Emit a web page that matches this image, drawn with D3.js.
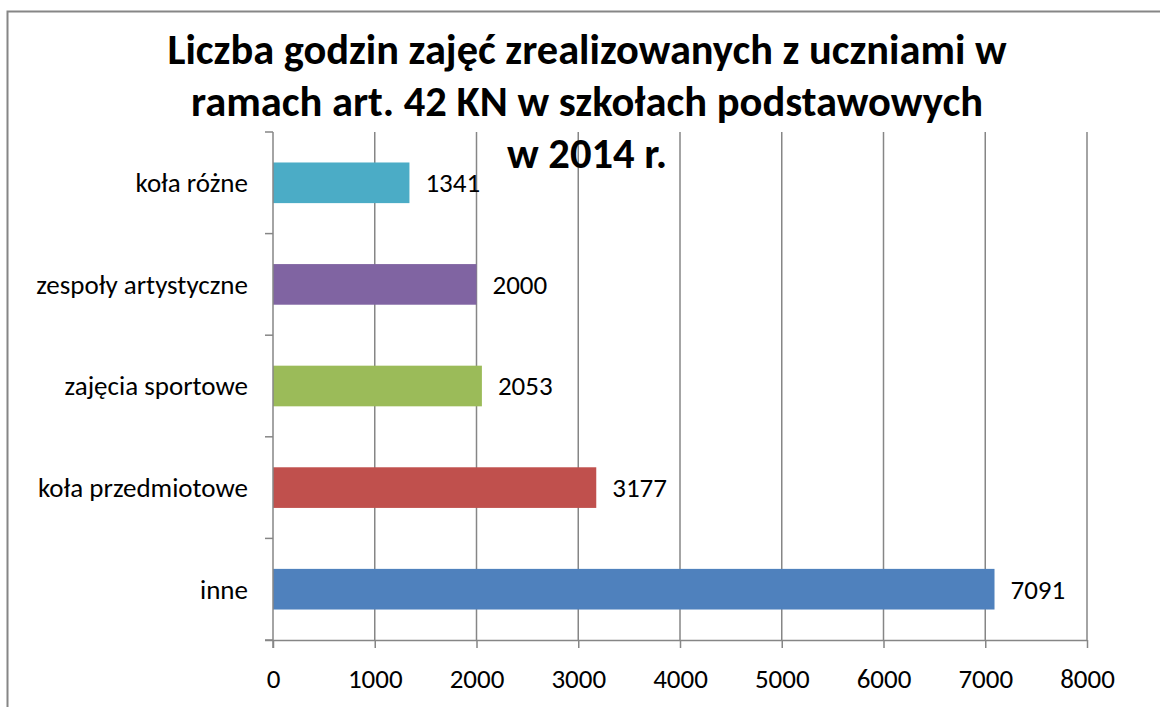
<!DOCTYPE html>
<html>
<head>
<meta charset="utf-8">
<script src="https://cdn.jsdelivr.net/npm/d3@7"></script>
<style>
  html, body { margin: 0; padding: 0; background: #fff; }
  svg { display: block; }
  text { font-family: Carlito, Lato, "Open Sans", sans-serif; fill: #000; }
</style>
</head>
<body>
<svg id="chart" width="1160" height="707"></svg>
<script>
const titleLines = ["Liczba godzin zajęć zrealizowanych z uczniami w",
                    "ramach art. 42 KN w szkołach podstawowych",
                    "w 2014 r."];
const categories = ["inne", "koła przedmiotowe", "zajęcia sportowe", "zespoły artystyczne", "koła różne"];
const values = [7091, 3177, 2053, 2000, 1341];
const colors = ["#4F81BD", "#C0504D", "#9BBB59", "#8064A2", "#4BACC6"];
const xTicks = [0, 1000, 2000, 3000, 4000, 5000, 6000, 7000, 8000];

const svg = d3.select("#chart");
const m = {left: 273, right: 1087, top: 132, bottom: 640};
const axisColor = "#868686";
const fs = "27px";

// outer border (chart area frame, cropped on right/bottom)
svg.append("rect").attr("x", 7.5).attr("y", 11.5).attr("width", 1200).attr("height", 800)
  .attr("fill", "#fff").attr("stroke", axisColor).attr("stroke-width", 2);

const x = d3.scaleLinear().domain([0, 8000]).range([m.left, m.right]);
const y = d3.scaleBand().domain(categories.slice().reverse()).range([m.top, m.bottom]).paddingInner(0.6).paddingOuter(0.3);

// gridlines
svg.append("g").selectAll("line").data(xTicks.slice(1)).join("line")
  .attr("x1", d => x(d)).attr("x2", d => x(d))
  .attr("y1", m.top).attr("y2", m.bottom)
  .attr("stroke", axisColor).attr("stroke-width", 1.5);

// bars
svg.append("g").selectAll("rect").data(categories).join("rect")
  .attr("x", x(0))
  .attr("y", d => y(d))
  .attr("width", (d, i) => x(values[i]) - x(0))
  .attr("height", y.bandwidth())
  .attr("fill", (d, i) => colors[i]);

// x axis
const xAxis = d3.axisBottom(x).tickValues(xTicks).tickSize(8).tickPadding(21).tickFormat(d3.format("d"));
const gx = svg.append("g").attr("transform", `translate(0,${m.bottom})`).call(xAxis);
gx.select(".domain").attr("stroke", axisColor).attr("stroke-width", 1.5).attr("d", `M${m.left - 8},0.5H${m.right}`);
gx.selectAll(".tick line").attr("stroke", axisColor).attr("stroke-width", 1.5);
gx.selectAll(".tick text").attr("font-size", fs).style("font-family", "Carlito, Lato, sans-serif").attr("fill", "#000");

// y axis: band boundaries as ticks
const step = (m.bottom - m.top) / categories.length;
const gy = svg.append("g");
gy.append("line").attr("x1", m.left).attr("x2", m.left).attr("y1", m.top).attr("y2", m.bottom + 8)
  .attr("stroke", axisColor).attr("stroke-width", 1.5);
gy.selectAll("line.tk").data(d3.range(categories.length + 1)).join("line").attr("class", "tk")
  .attr("x1", m.left - 8).attr("x2", m.left)
  .attr("y1", i => m.top + i * step).attr("y2", i => m.top + i * step)
  .attr("stroke", axisColor).attr("stroke-width", 1.5);
gy.selectAll("text").data(categories).join("text")
  .attr("x", m.left - 25)
  .attr("y", d => y(d) + y.bandwidth() / 2)
  .attr("dy", "0.35em")
  .attr("text-anchor", "end")
  .attr("font-size", fs)
  .text(d => d);

// value labels
svg.append("g").selectAll("text").data(categories).join("text")
  .attr("x", (d, i) => x(values[i]) + 16)
  .attr("y", d => y(d) + y.bandwidth() / 2)
  .attr("dy", "0.35em")
  .attr("font-size", fs)
  .text((d, i) => values[i]);

// title
const titleW = [839, 792, 160];
const titleY = [64, 116, 168];
svg.append("g").selectAll("text").data(titleLines).join("text")
  .attr("x", 587)
  .attr("y", (d, i) => titleY[i])
  .attr("text-anchor", "middle")
  .attr("font-size", "42px")
  .attr("font-weight", "bold")
  .attr("textLength", (d, i) => titleW[i])
  .attr("lengthAdjust", "spacingAndGlyphs")
  .text(d => d);
</script>
</body>
</html>
